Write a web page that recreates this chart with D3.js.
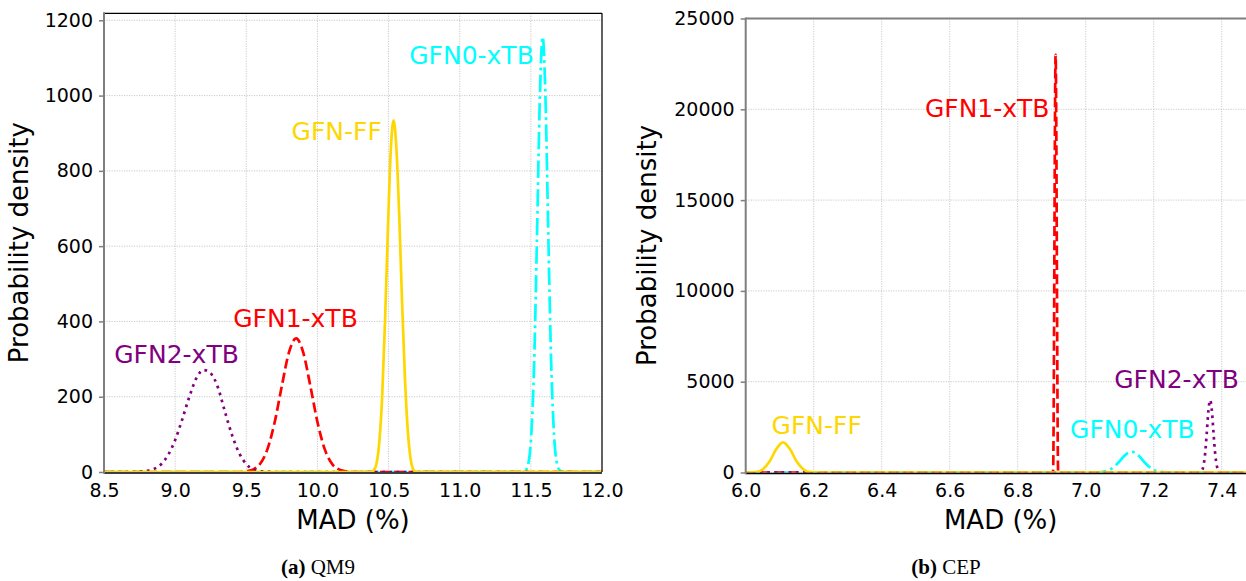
<!DOCTYPE html>
<html>
<head>
<meta charset="utf-8">
<script src="https://cdn.jsdelivr.net/npm/d3@7/dist/d3.min.js"></script>
<style>
  html, body { margin: 0; padding: 0; background: #fff; }
  svg { display: block; }
</style>
</head>
<body>
<svg id="fig" width="1246" height="581"></svg>
<script>
// ---------- data: KDE curves of MAD (%) per method, as [MAD, density] ----------
const seriesNames = ["GFN0-xTB", "GFN1-xTB", "GFN2-xTB", "GFN-FF"];

// (a) QM9
const qm9Gfn0 = [[8.5,0],[11.443,0],[11.463,4],[11.483,24],[11.503,98],[11.523,288],[11.543,623],[11.563,991],[11.583,1156],[11.603,991],[11.623,623],[11.643,288],[11.663,98],[11.683,24],[11.703,4],[11.723,0],[12.0,0]];
const qm9Gfn1 = [[8.5,0],[9.45,0],[9.50,2],[9.55,7],[9.60,23],[9.65,62],[9.70,133],[9.75,229],[9.80,318],[9.85,355],[9.90,318],[9.95,229],[10.00,133],[10.05,62],[10.10,23],[10.15,7],[10.20,2],[10.25,0],[12.0,0]];
const qm9Gfn2 = [[8.5,0],[8.70,0],[8.75,1],[8.80,3],[8.85,8],[8.90,20],[8.95,45],[9.00,85],[9.05,140],[9.10,200],[9.15,250],[9.20,271],[9.25,262],[9.30,225],[9.35,160],[9.40,98],[9.45,50],[9.50,21],[9.55,7],[9.60,2],[9.65,1],[9.70,0],[12.0,0]];
const qm9GfnFF = [[8.5,0],[10.375,0],[10.395,4],[10.415,22],[10.435,80],[10.455,200],[10.475,400],[10.495,640],[10.515,850],[10.535,934],[10.555,860],[10.575,680],[10.595,450],[10.615,250],[10.635,110],[10.655,35],[10.675,6],[10.695,0],[12.0,0]];

// (b) CEP
const cepGfn0 = [[6.0,0],[7.015,1],[7.035,9],[7.055,50],[7.075,197],[7.095,524],[7.115,942],[7.135,1145],[7.155,942],[7.175,524],[7.195,197],[7.215,50],[7.235,9],[7.255,1],[7.275,0],[7.5,0]];
const cepGfn1 = [[6.0,0],[6.904,0],[6.9115,23000],[6.919,0],[7.5,0]];
const cepGfn2 = [[6.0,0],[7.326,0],[7.331,2],[7.336,15],[7.341,84],[7.346,338],[7.351,996],[7.356,2153],[7.361,3421],[7.366,3992],[7.371,3421],[7.376,2153],[7.381,996],[7.386,338],[7.391,84],[7.396,15],[7.401,2],[7.406,0],[7.5,0]];
const cepGfnFF = [[6.0,1],[6.01,3],[6.03,28],[6.05,167],[6.07,599],[6.09,1289],[6.11,1663],[6.13,1289],[6.15,599],[6.17,167],[6.19,28],[6.21,3],[6.23,0],[7.5,0]];

// ticks
const qm9XTicks = [8.5, 9.0, 9.5, 10.0, 10.5, 11.0, 11.5, 12.0];
const qm9YTicks = [0, 200, 400, 600, 800, 1000, 1200];
const cepXTicks = [6.0, 6.2, 6.4, 6.6, 6.8, 7.0, 7.2, 7.4];
const cepYTicks = [0, 5000, 10000, 15000, 20000, 25000];

// in-plot name tags: [series, MAD, density] (text starts here, on its baseline)
const qm9Tags = [["GFN0-xTB", 10.645, 1083], ["GFN-FF", 9.818, 882], ["GFN1-xTB", 9.408, 386], ["GFN2-xTB", 8.572, 290]];
const cepTags = [["GFN1-xTB", 6.527, 19593], ["GFN-FF", 6.076, 2120], ["GFN0-xTB", 6.954, 1883], ["GFN2-xTB", 7.084, 4637]];

// ---------- styling ----------
const SANS = "'DejaVu Sans', sans-serif";
const LW = 2.7;
const style = {
  "GFN0-xTB": { color: "#00FFFF", dash: [6.4*LW, 1.6*LW, 1*LW, 1.6*LW].join(",") },
  "GFN1-xTB": { color: "#FF0000", dash: [3.7*LW, 1.6*LW].join(",") },
  "GFN2-xTB": { color: "#800080", dash: [1*LW, 1.65*LW].join(",") },
  "GFN-FF":   { color: "#FFD700", dash: null }
};
const drawOrder = ["GFN0-xTB", "GFN1-xTB", "GFN2-xTB", "GFN-FF"];

const panels = [
  {
    id: "qm9",
    left: 104, right: 602, top: 13.3, bottom: 472,
    xDomain: [8.5, 12.0], yDomain: [0, 1218.6],
    xTicks: qm9XTicks, yTicks: qm9YTicks,
    xFmt: d3.format(".1f"), yFmt: d3.format("d"),
    series: { "GFN0-xTB": qm9Gfn0, "GFN1-xTB": qm9Gfn1, "GFN2-xTB": qm9Gfn2, "GFN-FF": qm9GfnFF },
    tags: qm9Tags,
    spines: { left: "#7f7f7f", top: "#000", right: "#000" },
    ylabelX: 28, caption: ["(a)", " QM9"], captionX: 318
  },
  {
    id: "cep",
    left: 745.7, right: 1255.7, top: 18.5, bottom: 472.5,
    xDomain: [6.0, 7.5], yDomain: [0, 25000],
    xTicks: cepXTicks, yTicks: cepYTicks,
    xFmt: d3.format(".1f"), yFmt: d3.format("d"),
    series: { "GFN0-xTB": cepGfn0, "GFN1-xTB": cepGfn1, "GFN2-xTB": cepGfn2, "GFN-FF": cepGfnFF },
    tags: cepTags,
    spines: { left: "#7f7f7f", top: "#7f7f7f", right: null },
    ylabelX: 656, caption: ["(b)", " CEP"], captionX: 946
  }
];

const svg = d3.select("#fig");
svg.append("rect").attr("width", 1246).attr("height", 581).attr("fill", "#fff");

panels.forEach(p => {
  const x = d3.scaleLinear().domain(p.xDomain).range([p.left, p.right]);
  const y = d3.scaleLinear().domain(p.yDomain).range([p.bottom, p.top]);
  const g = svg.append("g").attr("class", "panel-" + p.id);

  // grid
  const grid = g.append("g").attr("stroke", "#c4c4c4").attr("stroke-width", 0.9).attr("stroke-dasharray", "1.2,1.3");
  grid.selectAll("line.gx").data(p.xTicks).join("line").attr("class", "gx")
    .attr("x1", d => x(d)).attr("x2", d => x(d)).attr("y1", p.top).attr("y2", p.bottom);
  grid.selectAll("line.gy").data(p.yTicks).join("line").attr("class", "gy")
    .attr("x1", p.left).attr("x2", p.right).attr("y1", d => y(d)).attr("y2", d => y(d));

  // curves, clipped to the axes box
  const clipId = "clip-" + p.id;
  svg.append("defs").append("clipPath").attr("id", clipId)
    .append("rect").attr("x", p.left).attr("y", p.top).attr("width", p.right - p.left).attr("height", p.bottom - p.top);
  const line = d3.line().x(d => x(d[0])).y(d => y(d[1])).curve(d3.curveMonotoneX);
  const curves = g.append("g").attr("clip-path", `url(#${clipId})`);
  drawOrder.forEach(name => {
    curves.append("path")
      .datum(p.series[name])
      .attr("d", line)
      .attr("fill", "none")
      .attr("stroke", style[name].color)
      .attr("stroke-width", LW)
      .attr("stroke-dasharray", style[name].dash)
      .attr("stroke-linejoin", "round");
  });

  // spines
  if (p.spines.top) g.append("line").attr("x1", p.left).attr("x2", p.right).attr("y1", p.top).attr("y2", p.top)
    .attr("stroke", p.spines.top).attr("stroke-width", p.spines.top === "#000" ? 1.2 : 2);
  if (p.spines.right) g.append("line").attr("x1", p.right).attr("x2", p.right).attr("y1", p.top).attr("y2", p.bottom)
    .attr("stroke", p.spines.right).attr("stroke-width", 1.2);
  g.append("line").attr("x1", p.left).attr("x2", p.right).attr("y1", p.bottom + 1).attr("y2", p.bottom + 1)
    .attr("stroke", "#000").attr("stroke-width", 1.6);
  g.append("line").attr("x1", p.left).attr("x2", p.left).attr("y1", p.top - 1).attr("y2", p.bottom + 1.8)
    .attr("stroke", p.spines.left).attr("stroke-width", 2);

  // axes
  const yAxis = d3.axisLeft(y).tickValues(p.yTicks).tickFormat(p.yFmt).tickSize(5).tickPadding(6);
  const ya = g.append("g").attr("transform", `translate(${p.left},0)`).call(yAxis);
  ya.select(".domain").remove();
  ya.selectAll(".tick line").attr("stroke", "#7f7f7f").attr("stroke-width", 1.5);
  ya.selectAll(".tick text").attr("fill", "#000").style("font-family", SANS).style("font-size", "19px");

  const xAxis = d3.axisBottom(x).tickValues(p.xTicks).tickFormat(p.xFmt).tickSize(0).tickPadding(11.5);
  const xa = g.append("g").attr("transform", `translate(0,${p.bottom})`).call(xAxis);
  xa.select(".domain").remove();
  xa.selectAll(".tick text").attr("fill", "#000").style("font-family", SANS).style("font-size", "19px");

  // axis titles
  g.append("text").attr("x", (p.left + Math.min(p.right, 1255.7)) / 2).attr("y", 529)
    .attr("text-anchor", "middle").style("font-family", SANS).style("font-size", "26px").text("MAD (%)");
  g.append("text").attr("transform", `translate(${p.ylabelX},${(p.top + p.bottom) / 2}) rotate(-90)`)
    .attr("text-anchor", "middle").style("font-family", SANS).style("font-size", "26px").text("Probability density");

  // series name tags
  g.selectAll("text.tag").data(p.tags).join("text").attr("class", "tag")
    .attr("x", d => x(d[1])).attr("y", d => y(d[2]))
    .attr("fill", d => style[d[0]].color)
    .style("font-family", SANS).style("font-size", "25px")
    .text(d => d[0]);

  // caption
  const cap = svg.append("text").attr("x", p.captionX).attr("y", 574).attr("text-anchor", "middle")
    .style("font-family", "'Liberation Serif', 'Times New Roman', serif").style("font-size", "21px");
  cap.append("tspan").style("font-weight", "bold").text(p.caption[0]);
  cap.append("tspan").text(p.caption[1]);
});
</script>
</body>
</html>
